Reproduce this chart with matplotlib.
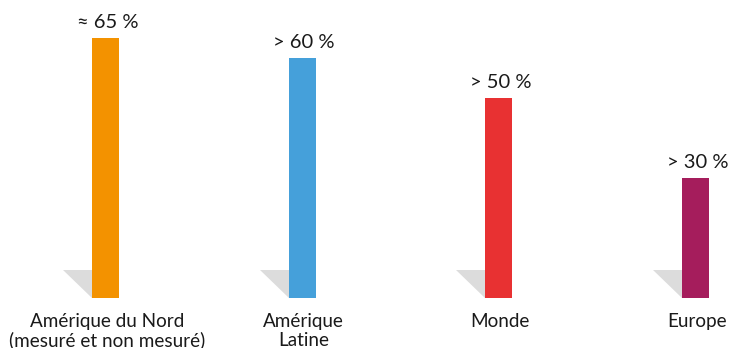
import matplotlib
matplotlib.use("Agg")
import matplotlib.pyplot as plt
from matplotlib.patches import Polygon

plt.rcParams['font.family'] = ['Lato', 'DejaVu Sans']

categories = ["Amérique du Nord\n(mesuré et non mesuré)", "Amérique\nLatine", "Monde", "Europe"]
values = [65, 60, 50, 30]
value_labels = ["≈ 65 %", "> 60 %", "> 50 %", "> 30 %"]
colors = ["#F39200", "#45A0DA", "#E83132", "#A51D5C"]

fig = plt.figure(figsize=(7.29, 3.48), dpi=100)
ax = fig.add_axes([0, 0, 1, 1])

w = 0.137
xs = list(range(len(values)))

# little grey shadow triangle on the left foot of each bar
for x in xs:
    left = x - w / 2
    ax.add_patch(Polygon([(left - 0.1475, 7), (left, 7), (left, 0)],
                         closed=True, facecolor="#dcdcdc", edgecolor="none"))

ax.bar(xs, values, width=w, color=colors, zorder=2)

for x, v, lab in zip(xs, values, value_labels):
    ax.annotate(lab, (x, v), xytext=(1.5, 7), textcoords="offset points",
                ha="center", va="baseline", fontsize=14.5, color="#1a1a1a")

# category names, one line at a time so baselines sit where they should
for x, cat in zip(xs, categories):
    for i, line in enumerate(cat.split("\n")):
        ax.annotate(line, (x, 0), xytext=(1, -20.6 - i * 14.0),
                    textcoords="offset points", ha="center", va="baseline",
                    fontsize=13.6, color="#1a1a1a")

ax.set_xlim(-0.5364, 3.1703)
ax.set_ylim(-12.5, 74.5)
ax.axis("off")

fig.savefig("out.png", dpi=100, facecolor="white")
